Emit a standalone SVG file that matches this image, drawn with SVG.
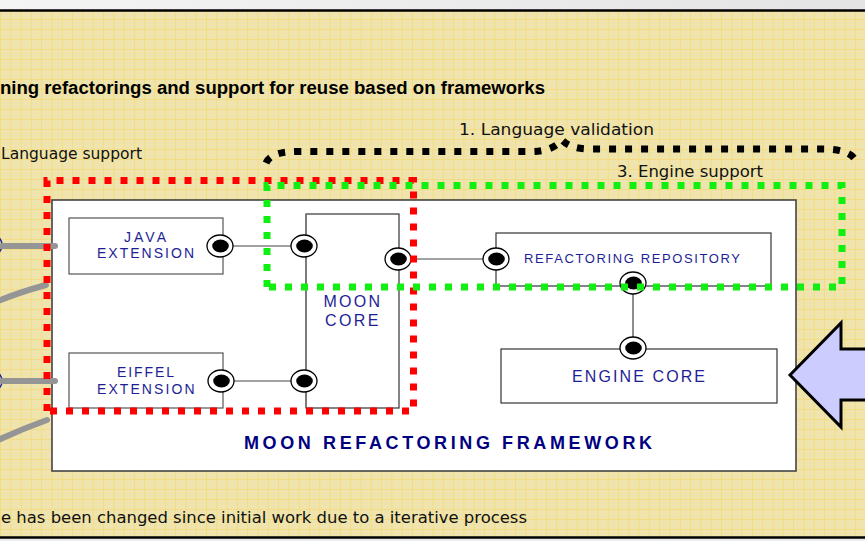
<svg xmlns="http://www.w3.org/2000/svg" width="865" height="541" viewBox="0 0 865 541">
  <defs>
    <pattern id="grid" x="0" y="9" width="10.3" height="10" patternUnits="userSpaceOnUse">
      <rect width="10.3" height="10" fill="#efe4ad"/>
      <path d="M0.5,0 V10 M0,0.5 H10.3" stroke="#f6da74" stroke-width="1" opacity="0.75"/>
    </pattern>
    <linearGradient id="topband" x1="0" y1="0" x2="1" y2="0">
      <stop offset="0" stop-color="#f4f4f4"/>
      <stop offset="1" stop-color="#e4e4e4"/>
    </linearGradient>
    <g id="sock">
      <ellipse cx="0" cy="0" rx="13" ry="11" fill="#fff" stroke="#000" stroke-width="1.3"/>
      <ellipse cx="0.5" cy="0" rx="8.3" ry="6.5" fill="#000"/>
    </g>
    <style>
      .box { fill: #fff; stroke: #333; stroke-width: 1.2; }
      .lbl { font-family: "Liberation Sans", Arial, sans-serif; fill: #1e1e96; }
      .note { font-family: "DejaVu Sans", Verdana, sans-serif; font-size: 16px; fill: #111; }
      .wire { stroke: #444; stroke-width: 1.2; fill: none; }
      .grey { stroke: #959595; stroke-width: 6; stroke-linecap: round; fill: none; }
      .dot { fill: none; stroke-width: 7; stroke-dasharray: 7 9; }
    </style>
  </defs>

  <!-- background -->
  <rect x="0" y="0" width="865" height="541" fill="url(#grid)"/>
  <rect x="0" y="0" width="865" height="10" fill="url(#topband)"/>
  <line x1="0" y1="10.5" x2="865" y2="10.5" stroke="#000" stroke-width="2.5"/>
  <rect x="0" y="538" width="865" height="3" fill="#ececec"/>
  <line x1="0" y1="537.5" x2="865" y2="537.5" stroke="#000" stroke-width="2.5"/>

  <text x="0" y="94" textLength="545" lengthAdjust="spacingAndGlyphs" font-family="Liberation Sans, Arial, sans-serif" font-size="18" font-weight="bold" fill="#000">ning refactorings and support for reuse based on frameworks</text>
  <text class="note" x="1" y="159" textLength="141" lengthAdjust="spacingAndGlyphs">Language support</text>
  <text class="note" x="1" y="523" textLength="526" lengthAdjust="spacingAndGlyphs">e has been changed since initial work  due to a iterative process</text>

  <!-- framework container -->
  <g id="framework">
    <rect x="52" y="200" width="744" height="271" fill="#fff" stroke="#444" stroke-width="1.6"/>
    <text class="lbl" x="244" y="449" textLength="408" font-size="18" font-weight="bold" style="fill:#000080">MOON REFACTORING FRAMEWORK</text>
  </g>

  <g id="java-extension">
    <rect class="box" x="69" y="218" width="154" height="56" style="stroke:#555"/>
    <text class="lbl" x="124" y="242" textLength="42" font-size="14">JAVA</text>
    <text class="lbl" x="97" y="258" textLength="97" font-size="14">EXTENSION</text>
  </g>

  <g id="eiffel-extension">
    <rect class="box" x="69" y="353" width="154" height="55" style="stroke:#555"/>
    <text class="lbl" x="117" y="377" textLength="57" font-size="14">EIFFEL</text>
    <text class="lbl" x="97" y="394" textLength="97.5" font-size="14">EXTENSION</text>
  </g>

  <g id="moon-core">
    <rect class="box" x="306" y="214" width="93" height="194"/>
    <line x1="306" y1="214" x2="306" y2="408" stroke="#777" stroke-width="1.4"/>
    <text class="lbl" x="323.5" y="307" textLength="56.5" font-size="16">MOON</text>
    <text class="lbl" x="325" y="326" textLength="53.5" font-size="16">CORE</text>
  </g>

  <g id="refactoring-repository">
    <rect class="box" x="496" y="233" width="275" height="53"/>
    <text class="lbl" x="524" y="263" textLength="216" font-size="13">REFACTORING REPOSITORY</text>
  </g>

  <g id="engine-core">
    <rect class="box" x="501" y="349" width="276" height="54"/>
    <text class="lbl" x="572" y="382" textLength="133" font-size="16">ENGINE CORE</text>
  </g>

  <!-- connectors -->
  <g id="connectors">
    <path class="wire" d="M220,246 H304 M221,381 H304 M398,259 H496 M633,283 V348"/>
    <use href="#sock" x="220" y="246"/>
    <use href="#sock" x="304" y="246"/>
    <use href="#sock" x="221" y="381"/>
    <use href="#sock" x="304" y="381"/>
    <use href="#sock" x="398" y="259"/>
    <use href="#sock" x="496" y="259"/>
    <use href="#sock" x="633" y="283"/>
    <use href="#sock" x="633" y="348"/>
    <ellipse cx="-9" cy="245" rx="11" ry="11" fill="none" stroke="#1e1e96" stroke-width="1.5"/>
    <ellipse cx="-9" cy="381" rx="11" ry="11" fill="none" stroke="#1e1e96" stroke-width="1.5"/>
    <path class="grey" d="M2,246 H55 M-2,301 Q20,292 46,285 M2,381 H55 M-2,440 Q22,429 47,420"/>
  </g>

  <!-- highlight regions -->
  <g id="language-support">
    <path class="dot" stroke="#ff0000" d="M47,411 V180.5 H413.5 V411 Z"/>
  </g>
  <g id="engine-support">
    <path class="dot" stroke="#11ee11" d="M267,287 V185.5 H842 V287 Z"/>
    <text class="note" x="617" y="177" textLength="146" lengthAdjust="spacingAndGlyphs">3. Engine support</text>
  </g>
  <g id="language-validation">
    <path class="dot" stroke="#000" d="M266,163 C270,154 282,151.5 300,151.5 L532,151.5 C546,151.5 556,147 562,140 C568,146 576,149 592,149 L822,149 C836,149 848,151 854,158"/>
    <text class="note" x="459" y="135" textLength="195" lengthAdjust="spacingAndGlyphs">1. Language  validation</text>
  </g>

  <!-- big arrow -->
  <g id="arrow">
    <polygon points="790,375 841,323 841,349 872,349 872,400 841,400 841,427" fill="#ccccff" stroke="#000" stroke-width="3" stroke-linejoin="miter"/>
  </g>
</svg>
